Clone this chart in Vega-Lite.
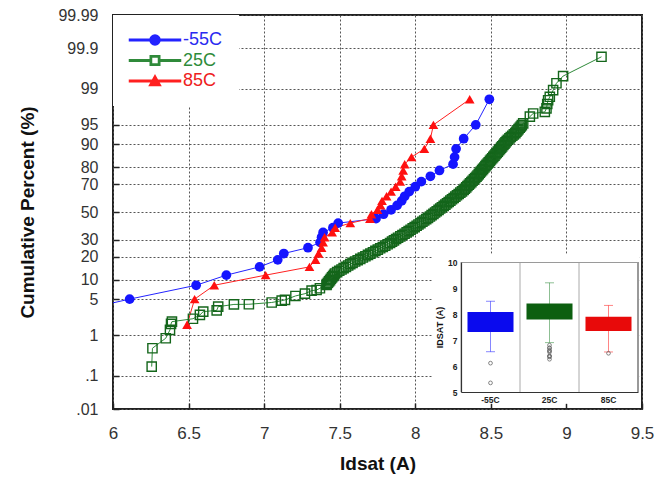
{
"$schema": "https://vega.github.io/schema/vega-lite/v6.json",
"width": 529, "height": 394,
"autosize": {"type": "none"},
"padding": {"left": 113, "top": 15, "right": 28, "bottom": 71},
"background": "white",
"config": {"font": "Liberation Sans", "view": {"stroke": "#222", "strokeWidth": 2}},
"datasets": {
"wb": [{"xa": 8.11, "xb": 9.485, "za": -3.62, "zb": -0.79}],
"box": [
{"s":"-55C","lo":6.55,"q1":7.31,"q3":8.08,"hi":8.49},
{"s":"25C","lo":6.9,"q1":7.79,"q3":8.40,"hi":9.20},
{"s":"85C","lo":6.54,"q1":7.35,"q3":7.89,"hi":8.33}],
"out": [
{"s":"-55C","v":6.11},{"s":"-55C","v":5.35},
{"s":"25C","v":6.26},{"s":"25C","v":6.35},{"s":"25C","v":6.38},{"s":"25C","v":6.39},{"s":"25C","v":6.53},{"s":"25C","v":6.58},{"s":"25C","v":6.60},{"s":"25C","v":6.69},{"s":"25C","v":6.70},{"s":"25C","v":6.80},
{"s":"85C","v":6.49}],
"pts": [
{"s":"25C","x":6.256,"z":-2.919},{"s":"25C","x":6.261,"z":-2.572},{"s":"25C","x":6.349,"z":-2.383},{"s":"25C","x":6.377,"z":-2.226},{"s":"25C","x":6.384,"z":-2.113},{"s":"25C","x":6.390,"z":-2.070},{"s":"25C","x":6.529,"z":-2.015},{"s":"25C","x":6.575,"z":-1.943},{"s":"25C","x":6.597,"z":-1.881},{"s":"25C","x":6.686,"z":-1.858},{"s":"25C","x":6.696,"z":-1.787},{"s":"25C","x":6.800,"z":-1.745},{"s":"25C","x":6.899,"z":-1.742},{"s":"25C","x":7.050,"z":-1.708},{"s":"25C","x":7.116,"z":-1.674},{"s":"25C","x":7.138,"z":-1.660},{"s":"25C","x":7.207,"z":-1.585},{"s":"25C","x":7.270,"z":-1.542},{"s":"25C","x":7.314,"z":-1.485},{"s":"25C","x":7.347,"z":-1.472},{"s":"25C","x":7.369,"z":-1.440},{"s":"25C","x":7.413,"z":-1.377},
{"s":"25C","x":7.415,"z":-1.36},{"s":"25C","x":7.422,"z":-1.335},{"s":"25C","x":7.429,"z":-1.31},{"s":"25C","x":7.436,"z":-1.285},{"s":"25C","x":7.442,"z":-1.26},{"s":"25C","x":7.449,"z":-1.235},{"s":"25C","x":7.456,"z":-1.21},{"s":"25C","x":7.463,"z":-1.185},{"s":"25C","x":7.469,"z":-1.16},{"s":"25C","x":7.483,"z":-1.135},{"s":"25C","x":7.497,"z":-1.11},{"s":"25C","x":7.512,"z":-1.085},{"s":"25C","x":7.526,"z":-1.06},{"s":"25C","x":7.541,"z":-1.035},{"s":"25C","x":7.556,"z":-1.01},{"s":"25C","x":7.570,"z":-0.985},{"s":"25C","x":7.585,"z":-0.96},{"s":"25C","x":7.602,"z":-0.935},{"s":"25C","x":7.619,"z":-0.91},{"s":"25C","x":7.636,"z":-0.885},{"s":"25C","x":7.653,"z":-0.86},{"s":"25C","x":7.670,"z":-0.835},{"s":"25C","x":7.687,"z":-0.81},{"s":"25C","x":7.703,"z":-0.785},{"s":"25C","x":7.720,"z":-0.76},{"s":"25C","x":7.736,"z":-0.735},{"s":"25C","x":7.752,"z":-0.71},{"s":"25C","x":7.768,"z":-0.685},{"s":"25C","x":7.785,"z":-0.66},{"s":"25C","x":7.801,"z":-0.635},{"s":"25C","x":7.817,"z":-0.61},{"s":"25C","x":7.833,"z":-0.585},{"s":"25C","x":7.846,"z":-0.56},{"s":"25C","x":7.859,"z":-0.535},{"s":"25C","x":7.873,"z":-0.51},{"s":"25C","x":7.886,"z":-0.485},{"s":"25C","x":7.901,"z":-0.46},{"s":"25C","x":7.915,"z":-0.435},{"s":"25C","x":7.929,"z":-0.41},{"s":"25C","x":7.943,"z":-0.385},{"s":"25C","x":7.956,"z":-0.36},{"s":"25C","x":7.969,"z":-0.335},{"s":"25C","x":7.983,"z":-0.31},{"s":"25C","x":7.996,"z":-0.285},{"s":"25C","x":8.009,"z":-0.26},{"s":"25C","x":8.021,"z":-0.235},{"s":"25C","x":8.034,"z":-0.21},{"s":"25C","x":8.047,"z":-0.185},{"s":"25C","x":8.059,"z":-0.16},{"s":"25C","x":8.072,"z":-0.135},{"s":"25C","x":8.084,"z":-0.11},{"s":"25C","x":8.097,"z":-0.085},{"s":"25C","x":8.108,"z":-0.06},{"s":"25C","x":8.120,"z":-0.035},{"s":"25C","x":8.131,"z":-0.01},{"s":"25C","x":8.142,"z":0.015},{"s":"25C","x":8.154,"z":0.04},{"s":"25C","x":8.165,"z":0.065},{"s":"25C","x":8.176,"z":0.09},{"s":"25C","x":8.188,"z":0.115},{"s":"25C","x":8.199,"z":0.14},{"s":"25C","x":8.210,"z":0.165},{"s":"25C","x":8.221,"z":0.19},{"s":"25C","x":8.232,"z":0.215},{"s":"25C","x":8.243,"z":0.24},{"s":"25C","x":8.254,"z":0.265},{"s":"25C","x":8.265,"z":0.29},{"s":"25C","x":8.276,"z":0.315},{"s":"25C","x":8.287,"z":0.34},{"s":"25C","x":8.298,"z":0.365},{"s":"25C","x":8.309,"z":0.39},{"s":"25C","x":8.320,"z":0.415},{"s":"25C","x":8.328,"z":0.44},{"s":"25C","x":8.337,"z":0.465},{"s":"25C","x":8.345,"z":0.49},{"s":"25C","x":8.354,"z":0.515},{"s":"25C","x":8.362,"z":0.54},{"s":"25C","x":8.371,"z":0.565},{"s":"25C","x":8.379,"z":0.59},{"s":"25C","x":8.388,"z":0.615},{"s":"25C","x":8.396,"z":0.64},{"s":"25C","x":8.405,"z":0.665},{"s":"25C","x":8.412,"z":0.69},{"s":"25C","x":8.420,"z":0.715},{"s":"25C","x":8.427,"z":0.74},{"s":"25C","x":8.434,"z":0.765},{"s":"25C","x":8.442,"z":0.79},{"s":"25C","x":8.449,"z":0.815},{"s":"25C","x":8.457,"z":0.84},{"s":"25C","x":8.464,"z":0.865},{"s":"25C","x":8.471,"z":0.89},{"s":"25C","x":8.479,"z":0.915},{"s":"25C","x":8.486,"z":0.94},{"s":"25C","x":8.494,"z":0.965},{"s":"25C","x":8.501,"z":0.99},{"s":"25C","x":8.509,"z":1.015},{"s":"25C","x":8.516,"z":1.04},{"s":"25C","x":8.524,"z":1.065},{"s":"25C","x":8.531,"z":1.09},{"s":"25C","x":8.539,"z":1.115},{"s":"25C","x":8.546,"z":1.14},{"s":"25C","x":8.554,"z":1.165},{"s":"25C","x":8.561,"z":1.19},{"s":"25C","x":8.568,"z":1.215},{"s":"25C","x":8.575,"z":1.24},{"s":"25C","x":8.583,"z":1.265},{"s":"25C","x":8.590,"z":1.29},{"s":"25C","x":8.597,"z":1.315},{"s":"25C","x":8.605,"z":1.34},{"s":"25C","x":8.613,"z":1.365},{"s":"25C","x":8.623,"z":1.39},{"s":"25C","x":8.632,"z":1.415},{"s":"25C","x":8.642,"z":1.44},{"s":"25C","x":8.652,"z":1.465},{"s":"25C","x":8.662,"z":1.49},{"s":"25C","x":8.669,"z":1.515},{"s":"25C","x":8.676,"z":1.54},{"s":"25C","x":8.683,"z":1.565},{"s":"25C","x":8.691,"z":1.59},{"s":"25C","x":8.698,"z":1.615},{"s":"25C","x":8.705,"z":1.64},
{"s":"25C","x":8.714,"z":1.674},{"s":"25C","x":8.758,"z":1.80},{"s":"25C","x":8.780,"z":1.86},{"s":"25C","x":8.857,"z":1.89},{"s":"25C","x":8.868,"z":1.957},{"s":"25C","x":8.873,"z":2.04},{"s":"25C","x":8.879,"z":2.11},{"s":"25C","x":8.890,"z":2.175},{"s":"25C","x":8.912,"z":2.30},{"s":"25C","x":8.934,"z":2.43},{"s":"25C","x":8.978,"z":2.566},{"s":"25C","x":9.232,"z":2.93},
{"s":"-55C","x":5.35,"z":-2.128},{"s":"-55C","x":6.11,"z":-1.645},{"s":"-55C","x":6.55,"z":-1.383},{"s":"-55C","x":6.75,"z":-1.192},{"s":"-55C","x":6.97,"z":-1.036},{"s":"-55C","x":7.09,"z":-0.903},{"s":"-55C","x":7.13,"z":-0.784},{"s":"-55C","x":7.29,"z":-0.674},{"s":"-55C","x":7.37,"z":-0.573},{"s":"-55C","x":7.38,"z":-0.477},{"s":"-55C","x":7.39,"z":-0.385},{"s":"-55C","x":7.455,"z":-0.297},{"s":"-55C","x":7.49,"z":-0.210},{"s":"-55C","x":7.74,"z":-0.126},{"s":"-55C","x":7.79,"z":-0.042},{"s":"-55C","x":7.84,"z":0.042},{"s":"-55C","x":7.88,"z":0.126},{"s":"-55C","x":7.91,"z":0.210},{"s":"-55C","x":7.93,"z":0.297},{"s":"-55C","x":7.96,"z":0.385},{"s":"-55C","x":8.00,"z":0.477},{"s":"-55C","x":8.04,"z":0.573},{"s":"-55C","x":8.10,"z":0.674},{"s":"-55C","x":8.16,"z":0.784},{"s":"-55C","x":8.25,"z":0.903},{"s":"-55C","x":8.26,"z":1.036},{"s":"-55C","x":8.27,"z":1.192},{"s":"-55C","x":8.32,"z":1.383},{"s":"-55C","x":8.40,"z":1.645},{"s":"-55C","x":8.49,"z":2.128},
{"s":"85C","x":6.49,"z":-2.128},{"s":"85C","x":6.54,"z":-1.645},{"s":"85C","x":6.67,"z":-1.383},{"s":"85C","x":7.01,"z":-1.192},{"s":"85C","x":7.30,"z":-1.036},{"s":"85C","x":7.34,"z":-0.903},{"s":"85C","x":7.36,"z":-0.784},{"s":"85C","x":7.38,"z":-0.674},{"s":"85C","x":7.39,"z":-0.573},{"s":"85C","x":7.40,"z":-0.477},{"s":"85C","x":7.45,"z":-0.385},{"s":"85C","x":7.47,"z":-0.297},{"s":"85C","x":7.57,"z":-0.210},{"s":"85C","x":7.70,"z":-0.126},{"s":"85C","x":7.71,"z":-0.042},{"s":"85C","x":7.75,"z":0.042},{"s":"85C","x":7.77,"z":0.126},{"s":"85C","x":7.78,"z":0.210},{"s":"85C","x":7.81,"z":0.297},{"s":"85C","x":7.84,"z":0.385},{"s":"85C","x":7.87,"z":0.477},{"s":"85C","x":7.90,"z":0.573},{"s":"85C","x":7.91,"z":0.674},{"s":"85C","x":7.92,"z":0.784},{"s":"85C","x":7.93,"z":0.903},{"s":"85C","x":7.975,"z":1.036},{"s":"85C","x":8.06,"z":1.192},{"s":"85C","x":8.10,"z":1.383},{"s":"85C","x":8.12,"z":1.645},{"s":"85C","x":8.36,"z":2.128}
]
},
"layer": [
{
"layer": [
{"data": {"name": "pts"},
 "mark": {"type": "line", "strokeWidth": 1, "clip": true},
 "encoding": {
  "x": {"field": "x", "type": "quantitative", "scale": {"domain": [6, 9.5], "nice": false, "zero": false},
   "axis": {"values": [6, 6.5, 7, 7.5, 8, 8.5, 9, 9.5], "labelExpr": "'' + datum.value", "title": "Idsat (A)",
    "grid": true, "gridDash": [2, 2], "gridColor": "#555", "gridWidth": 1, "domain": false, "tickCount": 20,
    "tickSize": -6, "tickColor": "#222", "tickWidth": 1.5, "labelPadding": 22, "labelFontSize": 17, "labelColor": "#333",
    "labelFlush": false, "labelOverlap": false, "titleFontSize": 19, "titleFontWeight": "bold", "titleColor": "#111", "titlePadding": 13}},
  "y": {"field": "z", "type": "quantitative", "scale": {"domain": [-3.719, 3.719], "nice": false, "zero": false},
   "axis": {"values": [-3.719, -3.09, -2.326, -1.645, -1.2816, -0.8416, -0.5244, 0, 0.5244, 0.8416, 1.2816, 1.645, 2.326, 3.09, 3.719],
    "tickCount": 30,
    "labelExpr": "datum.value < -3.5 ? '.01' : datum.value < -3 ? '.1' : datum.value < -2 ? '1' : datum.value < -1.5 ? '5' : datum.value < -1 ? '10' : datum.value < -0.7 ? '20' : datum.value < -0.3 ? '30' : datum.value < 0.3 ? '50' : datum.value < 0.7 ? '70' : datum.value < 1 ? '80' : datum.value < 1.5 ? '90' : datum.value < 2 ? '95' : datum.value < 3 ? '99' : datum.value < 3.5 ? '99.9' : '99.99'",
    "title": "Cumulative Percent (%)", "grid": true, "gridDash": [2, 2], "gridColor": "#555", "gridWidth": 1, "domain": false,
    "tickSize": -6, "tickColor": "#222", "tickWidth": 1.5, "labelPadding": 21, "labelFontSize": 16, "labelColor": "#333",
    "labelFlush": false, "labelOverlap": false, "titleFontSize": 19, "titleFontWeight": "bold", "titleColor": "#111", "titlePadding": 20}},
  "color": {"field": "s", "type": "nominal", "scale": {"domain": ["-55C", "25C", "85C"], "range": ["#2323ff", "#2f8a3a", "#ff2020"]},
   "legend": {"title": null, "orient": "top-left", "offset": 0, "padding": 16, "fillColor": "white",
    "symbolOffset": 17, "labelOffset": 19, "labelFontSize": 18, "rowPadding": 2.5,
    "encode": {"labels": {"update": {"fill": {"signal": "datum.value === '-55C' ? '#2a2af0' : datum.value === '25C' ? '#2e8b3a' : '#ee2020'"}}}}}},
  "order": {"field": "z", "type": "quantitative"}
 }},
{"data": {"name": "pts"},
 "transform": [{"filter": "datum.s === '25C'"}],
 "mark": {"type": "point", "shape": "square", "clip": true, "filled": false, "strokeWidth": 1.4, "size": 85, "color": "#14661b", "opacity": 1},
 "encoding": {"x": {"field": "x", "type": "quantitative"}, "y": {"field": "z", "type": "quantitative"}}},
{"data": {"name": "pts"},
 "transform": [{"filter": "datum.s === '-55C'"}],
 "mark": {"type": "point", "shape": "circle", "clip": true, "filled": true, "size": 95, "color": "#1515ff", "opacity": 1},
 "encoding": {"x": {"field": "x", "type": "quantitative"}, "y": {"field": "z", "type": "quantitative"}}},
{"data": {"name": "pts"},
 "transform": [{"filter": "datum.s === '85C'"}],
 "mark": {"type": "point", "shape": "triangle-up", "clip": true, "filled": true, "size": 95, "color": "#ff1010", "opacity": 1},
 "encoding": {"x": {"field": "x", "type": "quantitative"}, "y": {"field": "z", "type": "quantitative"}}},
{"data": {"name": "pts"},
 "transform": [{"filter": "false"}],
 "mark": {"type": "point", "filled": true, "size": 100, "strokeWidth": 0, "opacity": 1},
 "encoding": {
  "x": {"field": "x", "type": "quantitative"}, "y": {"field": "z", "type": "quantitative"},
  "color": {"field": "s", "type": "nominal"},
  "shape": {"field": "s", "type": "nominal", "scale": {"domain": ["-55C", "25C", "85C"], "range": [
    "M-5.1,-0.13L5.1,-0.13L5.1,0.13L-5.1,0.13ZM-1,0A1,1,0,1,1,1,0A1,1,0,1,1,-1,0Z",
    "M-5.1,-0.13L-0.95,-0.13L-0.95,0.13L-5.1,0.13ZM0.95,-0.13L5.1,-0.13L5.1,0.13L0.95,0.13ZM-0.95,-0.95L0.95,-0.95L0.95,0.95L-0.95,0.95ZM-0.7,-0.7L-0.7,0.7L0.7,0.7L0.7,-0.7Z",
    "M-5.1,-0.13L5.1,-0.13L5.1,0.13L-5.1,0.13ZM0,-1.1L1.1,0.9L-1.1,0.9Z"]},
   "legend": {"title": null, "orient": "top-left", "offset": 0, "padding": 16, "fillColor": "white",
    "symbolOffset": 17, "labelOffset": 19, "labelFontSize": 18, "rowPadding": 2.5,
    "encode": {"labels": {"update": {"fill": {"signal": "datum.value === '-55C' ? '#2a2af0' : datum.value === '25C' ? '#2e8b3a' : '#ee2020'"}}}}}}
 }},
{"data": {"name": "wb"},
 "mark": {"type": "rect", "fill": "white"},
 "encoding": {
  "x": {"field": "xa", "type": "quantitative"}, "x2": {"field": "xb"},
  "y": {"field": "za", "type": "quantitative"}, "y2": {"field": "zb"}
 }}
]
},
{
"layer": [
{"data": {"name": "box"},
 "mark": {"type": "rule", "color": "#aaa", "strokeWidth": 1},
 "encoding": {
  "x": {"field": "s", "type": "nominal", "bandPosition": 0, "scale": {"domain": ["-55C", "25C", "85C"], "range": [348, 525], "paddingInner": 0, "paddingOuter": 0},
   "axis": {"orient": "bottom", "offset": -17, "title": null, "grid": false,
    "ticks": false, "domain": true, "domainColor": "#333", "domainWidth": 1.2, "labelFontSize": 8.5, "labelFontWeight": "bold",
    "labelColor": "#222", "labelPadding": 3, "labelAngle": 0, "zindex": 1}},
  "y": {"datum": 5, "type": "quantitative", "scale": {"domain": [5, 10], "range": [377, 247], "nice": false, "zero": false},
   "axis": {"orient": "left", "offset": -348, "values": [5, 6, 7, 8, 9, 10], "format": "d", "title": "IDSAT (A)",
    "titleFontSize": 9, "titleFontWeight": "bold", "titlePadding": 3, "titleColor": "#111", "grid": true,
    "gridColor": {"condition": {"test": "datum.value === 10", "value": "#9a9a9a"}, "value": "transparent"},
    "ticks": false, "domainColor": "#333", "domainWidth": 1.2, "labelFontSize": 8.5, "labelFontWeight": "bold",
    "labelColor": "#222", "labelPadding": 4, "zindex": 1}},
  "y2": {"datum": 10}
 }},
{"data": {"name": "box"},
 "transform": [{"filter": "datum.s === '85C'"}],
 "mark": {"type": "rule", "color": "#555", "strokeWidth": 1.2},
 "encoding": {"x": {"field": "s", "type": "nominal", "bandPosition": 1}, "y": {"datum": 5, "type": "quantitative"}, "y2": {"datum": 10}}},
{"data": {"name": "box"},
 "mark": {"type": "rule", "strokeWidth": 1, "opacity": 0.55},
 "encoding": {
  "x": {"field": "s", "type": "nominal"},
  "y": {"field": "lo", "type": "quantitative"},
  "y2": {"field": "hi"},
  "color": {"field": "s", "type": "nominal"}
 }},
{"data": {"name": "box"},
 "mark": {"type": "tick", "size": 9, "thickness": 1, "opacity": 0.55},
 "encoding": {"x": {"field": "s", "type": "nominal"}, "y": {"field": "lo", "type": "quantitative"}, "color": {"field": "s", "type": "nominal"}}},
{"data": {"name": "box"},
 "mark": {"type": "tick", "size": 9, "thickness": 1, "opacity": 0.55},
 "encoding": {"x": {"field": "s", "type": "nominal"}, "y": {"field": "hi", "type": "quantitative"}, "color": {"field": "s", "type": "nominal"}}},
{"data": {"name": "box"},
 "mark": {"type": "bar", "width": {"band": 0.78}},
 "encoding": {
  "x": {"field": "s", "type": "nominal"},
  "y": {"field": "q1", "type": "quantitative"}, "y2": {"field": "q3"},
  "fill": {"field": "s", "type": "nominal", "scale": {"domain": ["-55C", "25C", "85C"], "range": ["#0a0aee", "#0c5f10", "#e80a0a"]}, "legend": null}
 }},
{"data": {"name": "out"},
 "mark": {"type": "point", "shape": "circle", "size": 14, "strokeWidth": 0.8, "color": "#666", "filled": false, "opacity": 1},
 "encoding": {"x": {"field": "s", "type": "nominal"}, "y": {"field": "v", "type": "quantitative"}}}
]
}
],
"resolve": {"scale": {"x": "independent", "y": "independent", "fill": "independent"}, "axis": {"x": "independent", "y": "independent"}}
}
